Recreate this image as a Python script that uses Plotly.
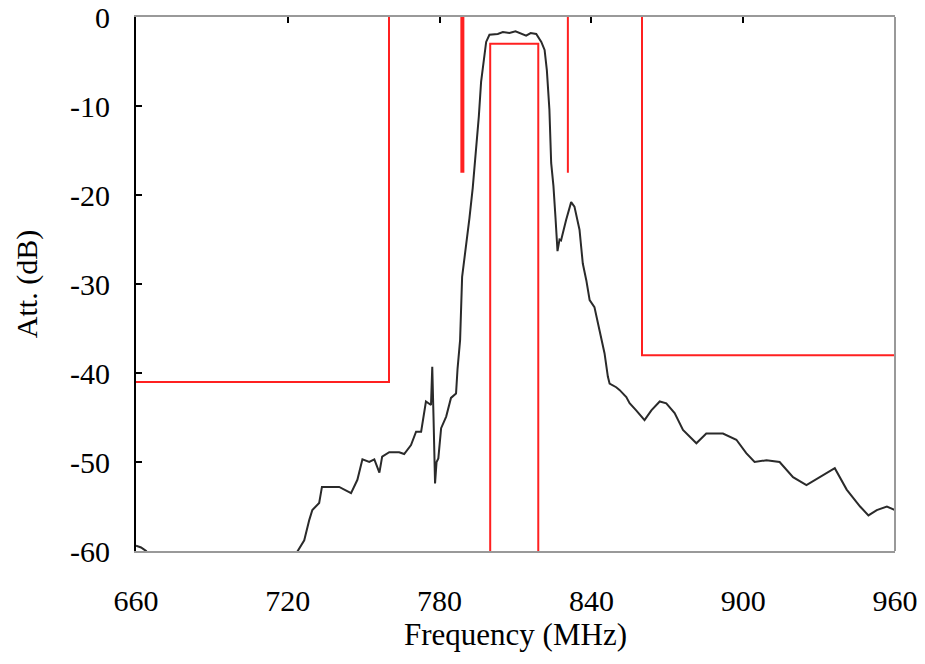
import plotly.graph_objects as go

# Measured response (MHz, dB)
freq = [660, 662, 664, 666, 700, 722, 723.7, 726.5, 728.5, 729.7, 732.4, 733.5, 737, 740.3, 745,
        747.5, 749.5, 752.2, 754.2, 756.2, 757.3, 760.1, 764, 766, 768.7, 770.7, 772.7,
        773.6, 774.6, 776.6, 777.1, 777.6, 778.2, 778.8, 779.5, 780.6, 782.6, 784.5, 786.5,
        787.1, 788.1, 788.9, 789.8, 790.7, 791.8, 793.1, 794.2, 795.5, 796.4, 797.7, 798.4,
        799.7, 803, 805, 807.6, 810, 811.6, 814.2, 816, 818.2, 820.2, 821.5, 822.4, 823.4,
        824.1, 825, 825.8, 826.6, 827.4, 828, 830, 832, 833.3, 835.3, 836.6, 838, 839.3,
        841.2, 843.2, 845.2, 846.5, 847.2, 849.8, 851.1, 853.8, 855.1, 857.7, 861, 863.7,
        867, 869.6, 872.9, 876.2, 881.5, 885.4, 892, 897.3, 901.2, 904.5, 909.2, 914.4,
        919.7, 925, 930.3, 936.2, 940.9, 946.2, 949.5, 952.8, 956.8, 960]
att = [-59.4, -59.6, -60.0, -61, -61, -61, -60.1, -58.8, -56.5, -55.4, -54.6, -52.8, -52.8, -52.8, -53.5,
       -52.0, -49.7, -50.0, -49.7, -51.2, -49.4, -48.9, -48.9, -49.1, -48.1, -46.6, -46.6,
       -44.9, -43.2, -43.6, -39.3, -45.0, -52.4, -50.0, -49.6, -46.2, -44.9, -42.8, -42.3,
       -39.5, -36.3, -29.2, -27.3, -25.2, -22.6, -19.2, -15.9, -11.2, -7.3, -4.1, -2.8,
       -2.0, -1.9, -1.7, -1.8, -1.6, -1.8, -2.1, -1.8, -1.9, -2.8, -3.7, -6.0, -10.4,
       -16.4, -19.0, -22.5, -26.3, -25.0, -25.1, -22.8, -20.8, -21.3, -23.9, -27.7, -29.6, -31.8,
       -32.6, -35.2, -37.8, -40.4, -41.2, -41.6, -41.9, -42.7, -43.4, -44.2, -45.3, -44.2,
       -43.2, -43.4, -44.5, -46.4, -47.9, -46.8, -46.8, -47.5, -49.0, -50.0, -49.8, -50.0,
       -51.7, -52.6, -51.7, -50.7, -53.1, -55.0, -56.0, -55.4, -55.0, -55.4]

# Specification mask
mask_lo_f = [660, 760, 760]
mask_lo_a = [-41, -41, 0]
mask_hi_f = [860, 860, 960]
mask_hi_a = [0, -38, -38]
pass_f = [800, 800, 819, 819]
pass_a = [-60, -3, -3, -60]
mark1_f = [789, 789]
mark1_a = [0, -17.5]
mark2_f = [830.7, 830.7]
mark2_a = [0, -17.5]

xticks = [660, 720, 780, 840, 900, 960]
yticks = [0, -10, -20, -30, -40, -50, -60]
top_ticks = [720, 780, 840, 900]

RED = "#ff2020"
fig = go.Figure()
for fx, ay, w in [(mask_lo_f, mask_lo_a, 2), (mask_hi_f, mask_hi_a, 2), (pass_f, pass_a, 2),
                  (mark1_f, mark1_a, 4), (mark2_f, mark2_a, 2)]:
    fig.add_trace(go.Scatter(x=fx, y=ay, mode="lines", line=dict(color=RED, width=w),
                             showlegend=False, hoverinfo="skip"))
fig.add_trace(go.Scatter(x=freq, y=att, mode="lines", line=dict(color="#2a2a2a", width=2),
                         showlegend=False))
# invisible trace to carry the top tick axis
fig.add_trace(go.Scatter(x=[660, 960], y=[0, 0], xaxis="x2", mode="lines",
                         line=dict(width=0), showlegend=False, hoverinfo="skip"))

font_serif = "Liberation Serif, Times New Roman, serif"
fig.update_layout(
    width=925, height=664,
    margin=dict(l=136, r=30, t=17, b=113, autoexpand=False),
    plot_bgcolor="white", paper_bgcolor="white",
    font=dict(family=font_serif, size=30, color="black"),
    xaxis=dict(range=[660, 960], tickvals=xticks, ticktext=[str(v) for v in xticks],
               showgrid=False, zeroline=False, showline=True, linecolor="#999999",
               linewidth=2, mirror=True, ticks="", ticklabelstandoff=22, automargin=False,
               title=dict(text="Frequency (MHz)", font=dict(size=31), standoff=6)),
    xaxis2=dict(range=[660, 960], overlaying="x", side="top", tickvals=top_ticks,
                showticklabels=False, ticks="inside", ticklen=6, tickwidth=2,
                tickcolor="black", showgrid=False, zeroline=False, showline=False,
                automargin=False),
    yaxis=dict(range=[-60, 0], tickvals=yticks, ticktext=[str(v) for v in yticks],
               showgrid=False, zeroline=False, showline=True, linecolor="black",
               linewidth=2, ticks="inside", ticklen=6, tickwidth=2, tickcolor="black",
               ticklabelstandoff=18, automargin=False,
               title=dict(text="Att. (dB)", font=dict(size=30), standoff=24)),
    shapes=[dict(type="line", xref="paper", yref="paper", x0=1, x1=1, y0=0, y1=1,
                 line=dict(color="#999999", width=2))],
)
fig.write_html("out.html", config={"displayModeBar": False},
               post_script="document.body.style.margin='0';")
